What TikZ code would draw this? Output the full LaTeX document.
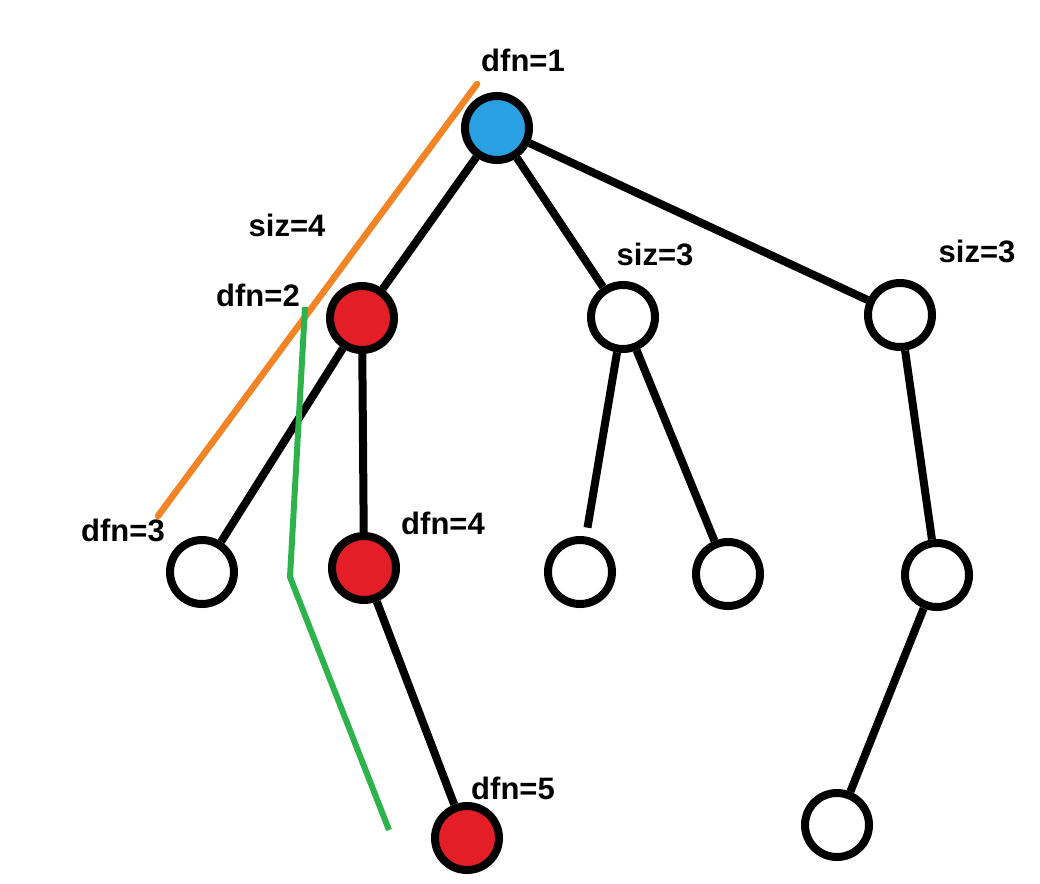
\documentclass[tikz,border=0pt]{standalone}
\usepackage{fontspec}
\setmainfont{Liberation Sans}
\usepackage{tikz}
\usetikzlibrary{positioning}

\definecolor{rootblue}{RGB}{40,160,225}
\definecolor{markred}{RGB}{228,30,38}
\definecolor{pathorange}{RGB}{243,132,38}
\definecolor{pathgreen}{RGB}{46,178,76}

\begin{document}
\begin{tikzpicture}[
    x=1pt, y=-1pt,
    vertex/.style={circle, draw, line width=8pt, minimum size=64pt, inner sep=0pt, fill=white},
    rootv/.style={vertex, fill=rootblue},
    markv/.style={vertex, fill=markred},
    tag/.style={font=\bfseries\fontsize{31}{31}\selectfont, inner sep=0pt},
    edge/.style={line width=8pt},
    chain/.style={line width=6.5pt, line cap=round}
]
\useasboundingbox (0,0) rectangle (1040,883);

% Vertices
\node[rootv] (v1) at (497,128) {};
\node[markv] (v2) at (362,318) {};
\node[vertex] (m) at (623,317) {};
\node[vertex] (r) at (900,315) {};
\node[vertex] (v3) at (202,572) {};
\node[markv] (v4) at (364,568) {};
\node[vertex] (ma) at (580,572) {};
\node[vertex] (mb) at (728,574) {};
\node[vertex] (ra) at (937,575) {};
\node[markv] (v5) at (467,838) {};
\node[vertex] (rb) at (837,825) {};

% Labels
\node[tag] (l1) at (523,60) {dfn=1};
\node[tag] (s2) at (287,225) {siz=4};
\node[tag] (l2) at (258,295) {dfn=2};
\node[tag] (sm) at (655,254) {siz=3};
\node[tag] (sr) at (977,251) {siz=3};
\node[tag] (l3) at (123,530) {dfn=3};
\node[tag] (l4) at (443,523) {dfn=4};
\node[tag] (l5) at (513,788) {dfn=5};

% Tree edges
\draw[edge] (v1) -- (v2);
\draw[edge] (v1) -- (m);
\draw[edge] (v1) -- (r);
\draw[edge] (v2) -- (v3);
\draw[edge] (v2) -- (v4);
\draw[edge] (v4) -- (v5);
\draw[edge, shorten >=9pt] (m) -- (ma);
\draw[edge] (m) -- (mb);
\draw[edge] (r) -- (ra);
\draw[edge] (ra) -- (rb);

% Orange and green chains
\coordinate (oa) at (477,84);
\coordinate (ob) at (158,516);
\coordinate (ga) at (305,307);
\coordinate (gb) at (290,577);
\coordinate (gc) at (389,830);
\draw[chain, pathorange] (oa) -- (ob);
\draw[chain, pathgreen, line width=6pt, line cap=butt] (ga) -- (gb) -- (gc);

\end{tikzpicture}
\end{document}
